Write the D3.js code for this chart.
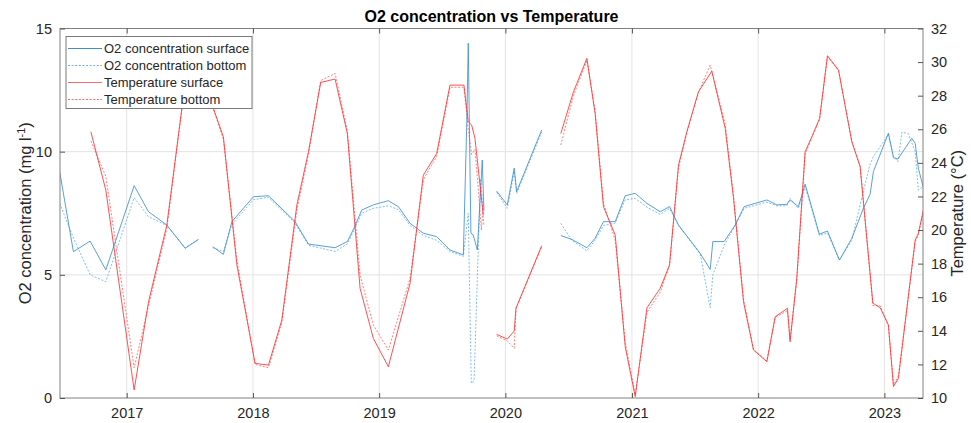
<!DOCTYPE html>
<html><head><meta charset="utf-8">
<script src="https://cdn.jsdelivr.net/npm/d3@7"></script>
<style>body{margin:0;background:#fff}svg{display:block;font-family:"Liberation Sans",Arial,sans-serif}</style>
</head><body><div id="chart"></div>
<script>
// ---- DATA (decimal years, values; null = gap) ----
const o2SurfT = [2016.47,2016.579,2016.711,2016.835,2017.059,2017.173,2017.318,2017.463,2017.569,2017.62,2017.682,2017.766,2017.833,2018.004,2018.123,2018.334,2018.44,2018.651,2018.748,2018.80,2018.862,2018.954,2019.073,2019.152,2019.245,2019.35,2019.456,2019.561,2019.667,2019.695,2019.706,2019.727,2019.745,2019.778,2019.817,2019.830,2019.88,2019.931,2020.015,2020.07,2020.089,2020.287,2020.36,2020.438,2020.525,2020.644,2020.709,2020.775,2020.868,2020.947,2021.026,2021.119,2021.224,2021.298,2021.369,2021.541,2021.62,2021.641,2021.731,2021.818,2021.889,2022.069,2022.148,2022.227,2022.253,2022.319,2022.372,2022.485,2022.549,2022.644,2022.742,2022.834,2022.887,2022.913,2023.032,2023.072,2023.107,2023.217,2023.244,2023.269,2023.309];
const o2SurfV = [9.2,5.94,6.37,5.20,8.62,7.56,7.02,6.08,6.44,null,6.14,5.83,7.16,8.17,8.21,7.16,6.25,6.10,6.35,6.89,7.63,7.84,8.01,7.77,7.09,6.69,6.55,6.01,5.81,11.3,14.4,6.69,6.62,6.01,9.66,7.6,null,8.40,7.84,9.33,8.38,10.88,null,6.59,6.44,6.10,6.48,7.16,7.16,8.21,8.31,7.9,7.56,7.77,7.02,5.87,5.22,6.35,6.35,7.02,7.77,8.04,7.84,7.86,8.04,7.77,8.68,6.65,6.78,5.60,6.48,7.70,8.27,9.19,10.75,9.76,9.70,10.54,10.34,9.33,8.54];

const o2BotT = [2016.47,2016.579,2016.711,2016.835,2017.059,2017.173,2017.318,2017.463,2017.569,2017.62,2017.682,2017.766,2017.833,2018.004,2018.123,2018.334,2018.44,2018.651,2018.748,2018.80,2018.862,2018.954,2019.073,2019.152,2019.245,2019.35,2019.456,2019.561,2019.667,2019.706,2019.73,2019.752,2019.785,2019.805,2019.830,2019.88,2019.931,2020.015,2020.07,2020.089,2020.287,2020.36,2020.438,2020.525,2020.644,2020.709,2020.775,2020.868,2020.947,2021.026,2021.119,2021.224,2021.298,2021.369,2021.541,2021.62,2021.641,2021.731,2021.818,2021.889,2022.069,2022.148,2022.227,2022.253,2022.319,2022.372,2022.485,2022.549,2022.644,2022.742,2022.834,2022.887,2022.913,2023.032,2023.072,2023.107,2023.139,2023.19,2023.244,2023.269,2023.309];
const o2BotV = [7.9,6.5,5.0,4.72,8.13,7.36,7.0,6.08,6.44,null,6.1,5.95,7.05,8.05,8.15,7.1,6.2,5.95,6.25,6.8,7.5,7.7,7.8,7.65,7.0,6.6,6.4,5.95,5.75,7.5,0.6,0.7,6.0,8.9,7.0,null,8.35,7.7,9.2,8.3,10.8,null,7.09,6.4,5.98,6.4,7.0,7.1,8.05,8.1,7.75,7.45,7.7,7.0,5.85,3.67,5.0,6.2,7.0,7.7,7.95,7.8,7.8,8.1,7.7,8.6,6.6,6.7,5.6,6.4,8.4,9.5,9.8,10.7,9.8,9.6,10.79,10.73,10.0,8.44,8.6];

const tSurfT = [2016.717,2016.835,2017.059,2017.173,2017.318,2017.437,2017.56,2017.687,2017.766,2017.873,2018.017,2018.123,2018.229,2018.348,2018.44,2018.537,2018.651,2018.748,2018.849,2018.954,2019.073,2019.245,2019.35,2019.456,2019.561,2019.672,2019.706,2019.733,2019.759,2019.785,2019.825,2019.88,2019.931,2020.015,2020.07,2020.084,2020.287,2020.36,2020.438,2020.538,2020.644,2020.709,2020.775,2020.868,2020.947,2021.026,2021.119,2021.224,2021.298,2021.369,2021.435,2021.527,2021.633,2021.739,2021.805,2021.884,2021.963,2022.069,2022.135,2022.232,2022.253,2022.306,2022.372,2022.425,2022.487,2022.549,2022.637,2022.742,2022.808,2022.909,2022.966,2023.032,2023.072,2023.111,2023.244,2023.269,2023.309];
const tSurfV = [25.85,22.38,10.48,15.73,20.3,27.24,30.5,27.24,25.55,17.92,12.06,11.96,14.64,21.49,24.66,28.79,28.99,25.75,16.53,13.55,11.86,16.83,23.27,24.56,28.63,28.63,26.45,26.25,25.46,23.67,20.89,null,13.79,13.51,13.99,15.34,19.07,null,25.75,28.23,30.22,26.95,21.39,19.7,13.05,10.08,15.37,16.53,17.92,23.87,25.85,28.23,29.46,26.05,21.89,15.73,12.86,12.16,14.84,15.34,13.35,17.12,24.66,25.55,26.65,30.38,29.52,25.26,23.77,15.64,15.38,14.35,10.68,11.17,19.4,19.8,21.19];

const tBotT = [2016.717,2016.835,2017.059,2017.173,2017.318,2017.437,2017.56,2017.687,2017.766,2017.873,2018.017,2018.123,2018.229,2018.348,2018.44,2018.537,2018.651,2018.748,2018.849,2018.954,2019.073,2019.245,2019.35,2019.456,2019.561,2019.672,2019.706,2019.733,2019.759,2019.785,2019.81,2019.825,2019.88,2019.931,2020.015,2020.07,2020.084,2020.287,2020.36,2020.438,2020.538,2020.644,2020.709,2020.775,2020.868,2020.947,2021.026,2021.119,2021.224,2021.298,2021.369,2021.435,2021.527,2021.62,2021.739,2021.805,2021.884,2021.963,2022.069,2022.135,2022.232,2022.253,2022.306,2022.372,2022.425,2022.487,2022.549,2022.637,2022.742,2022.808,2022.909,2022.966,2023.032,2023.072,2023.111,2023.244,2023.269,2023.309];
const tBotV = [25.3,23.2,11.8,15.5,20.1,27.2,30.3,27.2,25.4,18.2,12.0,11.8,14.5,21.2,24.5,28.9,29.33,25.9,17.3,14.35,12.86,17.12,23.0,24.4,28.5,28.5,26.0,24.5,24.8,22.5,20.0,21.5,null,13.7,13.4,12.96,15.34,19.0,null,25.06,28.0,30.1,27.1,21.6,19.4,13.3,10.2,15.1,16.3,17.9,23.7,25.8,28.2,29.82,26.3,22.0,15.9,12.9,12.2,14.8,15.2,13.5,17.0,24.5,25.5,26.6,30.3,29.5,25.3,23.8,15.5,15.5,14.3,10.8,11.3,19.3,19.7,21.1];

const leftTicks = [0,5,10,15];
const rightTicks = [10,12,14,16,18,20,22,24,26,28,30,32];
const yearTicks = [2017,2018,2019,2020,2021,2022,2023];
const legendLabels = ["O2 concentration surface","O2 concentration bottom","Temperature surface","Temperature bottom"];
const titleText = "O2 concentration vs Temperature";

// ---- LAYOUT ----
const W = 971, H = 423;
const m = {left:60, right:48, top:28.5, bottom:25};
const iw = W - m.left - m.right, ih = H - m.top - m.bottom;

function dy(y){ const yr=Math.floor(y); const a=Date.UTC(yr,0,1), b=Date.UTC(yr+1,0,1); return new Date(a+(y-yr)*(b-a)); }

const x = d3.scaleUtc().domain([dy(2016.473), dy(2023.306)]).range([0, iw]);
const yL = d3.scaleLinear().domain([0,15]).range([ih,0]);
const yR = d3.scaleLinear().domain([10,32]).range([ih,0]);

const svg = d3.select("#chart").append("svg").attr("width",W).attr("height",H);
const g = svg.append("g").attr("transform",`translate(${m.left},${m.top})`);

const gridC = "#e3e3e3", axC = "#808080", txtC = "#262626";

// grid
g.append("g").selectAll("line").data(yearTicks).join("line")
  .attr("x1",d=>x(dy(d))).attr("x2",d=>x(dy(d))).attr("y1",0).attr("y2",ih)
  .attr("stroke",gridC).attr("stroke-width",1);
g.append("g").selectAll("line").data(leftTicks.slice(1,-1)).join("line")
  .attr("x1",0).attr("x2",iw).attr("y1",d=>yL(d)).attr("y2",d=>yL(d))
  .attr("stroke",gridC).attr("stroke-width",1);

// clip
svg.append("defs").append("clipPath").attr("id","clip").append("rect").attr("width",iw).attr("height",ih);
const plot = g.append("g").attr("clip-path","url(#clip)");

function series(ts, vs){ return ts.map((t,i)=>({t:dy(t), v:vs[i]})); }
const mkLine = ys => d3.line().defined(d=>d.v!==null).x(d=>x(d.t)).y(d=>ys(d.v));

const blue = "#3d8fd1", blueL = "#6db0e3", red = "#ff3333", redL = "#ff6a6a";
const specs = [
  {d:series(o2BotT,o2BotV), ys:yL, c:blueL, dash:"2,1.6", w:1},
  {d:series(tBotT,tBotV), ys:yR, c:redL, dash:"2,1.6", w:1},
  {d:series(o2SurfT,o2SurfV), ys:yL, c:blue, dash:null, w:1},
  {d:series(tSurfT,tSurfV), ys:yR, c:red, dash:null, w:1}
];
specs.forEach(s=>{
  plot.append("path").datum(s.d).attr("d",mkLine(s.ys)).attr("fill","none")
    .attr("stroke",s.c).attr("stroke-width",s.w).attr("stroke-dasharray",s.dash)
    .attr("stroke-opacity",0.85).attr("stroke-linejoin","round");
});

// axes box
g.append("rect").attr("width",iw).attr("height",ih).attr("fill","none").attr("stroke",axC).attr("stroke-width",1);

// axes
const xAxB = d3.axisBottom(x).tickValues(yearTicks.map(dy)).tickFormat(d3.utcFormat("%Y")).tickSizeInner(-5).tickSizeOuter(0).tickPadding(10);
const gxb = g.append("g").attr("transform",`translate(0,${ih})`).call(xAxB);
const xAxT = d3.axisTop(x).tickValues(yearTicks.map(dy)).tickFormat("").tickSizeInner(-5).tickSizeOuter(0);
const gxt = g.append("g").call(xAxT);
const yAxL = d3.axisLeft(yL).tickValues(leftTicks).tickSizeInner(-5).tickSizeOuter(0).tickPadding(8);
const gyl = g.append("g").call(yAxL);
const yAxR = d3.axisRight(yR).tickValues(rightTicks).tickSizeInner(-5).tickSizeOuter(0).tickPadding(8);
const gyr = g.append("g").attr("transform",`translate(${iw},0)`).call(yAxR);
[gxb,gxt,gyl,gyr].forEach(a=>{
  a.select(".domain").remove();
  a.selectAll("line").attr("stroke","#555");
  a.selectAll("text").attr("fill",txtC).style("font-size","14.5px").style("font-family",'"Liberation Sans",Arial,sans-serif');
});

// title
svg.append("text").attr("x",m.left+iw/2).attr("y",22).attr("text-anchor","middle")
  .style("font-size","16px").style("font-weight","bold").attr("fill","#000").text(titleText);

// axis labels
const yl = svg.append("text").attr("transform",`translate(31,${m.top+ih/2}) rotate(-90)`).attr("text-anchor","middle")
  .style("font-size","16.5px").attr("fill",txtC);
yl.append("tspan").text("O2 concentration (mg l");
yl.append("tspan").attr("dy","-6").style("font-size","11px").text("-1");
yl.append("tspan").attr("dy","6").text(")");
svg.append("text").attr("transform",`translate(963,${m.top+ih/2}) rotate(-90)`).attr("text-anchor","middle")
  .style("font-size","16.5px").attr("fill",txtC).text("Temperature (°C)");

// legend
const lg = svg.append("g").attr("transform","translate(66,36.5)");
lg.append("rect").attr("width",186).attr("height",72).attr("fill","#fff").attr("stroke","#7a7a7a").attr("stroke-width",1);
const legSpec = [{c:blue,dash:null},{c:blueL,dash:"2,1.6"},{c:redL,dash:null},{c:redL,dash:"2,1.6"}];
legendLabels.forEach((l,i)=>{
  const yy = 12 + i*17;
  lg.append("line").attr("x1",2).attr("x2",36).attr("y1",yy).attr("y2",yy)
    .attr("stroke",legSpec[i].c).attr("stroke-width",1).attr("stroke-dasharray",legSpec[i].dash);
  lg.append("text").attr("x",38).attr("y",yy+4.5).style("font-size","13px").attr("fill",txtC).text(l);
});
</script></body></html>
